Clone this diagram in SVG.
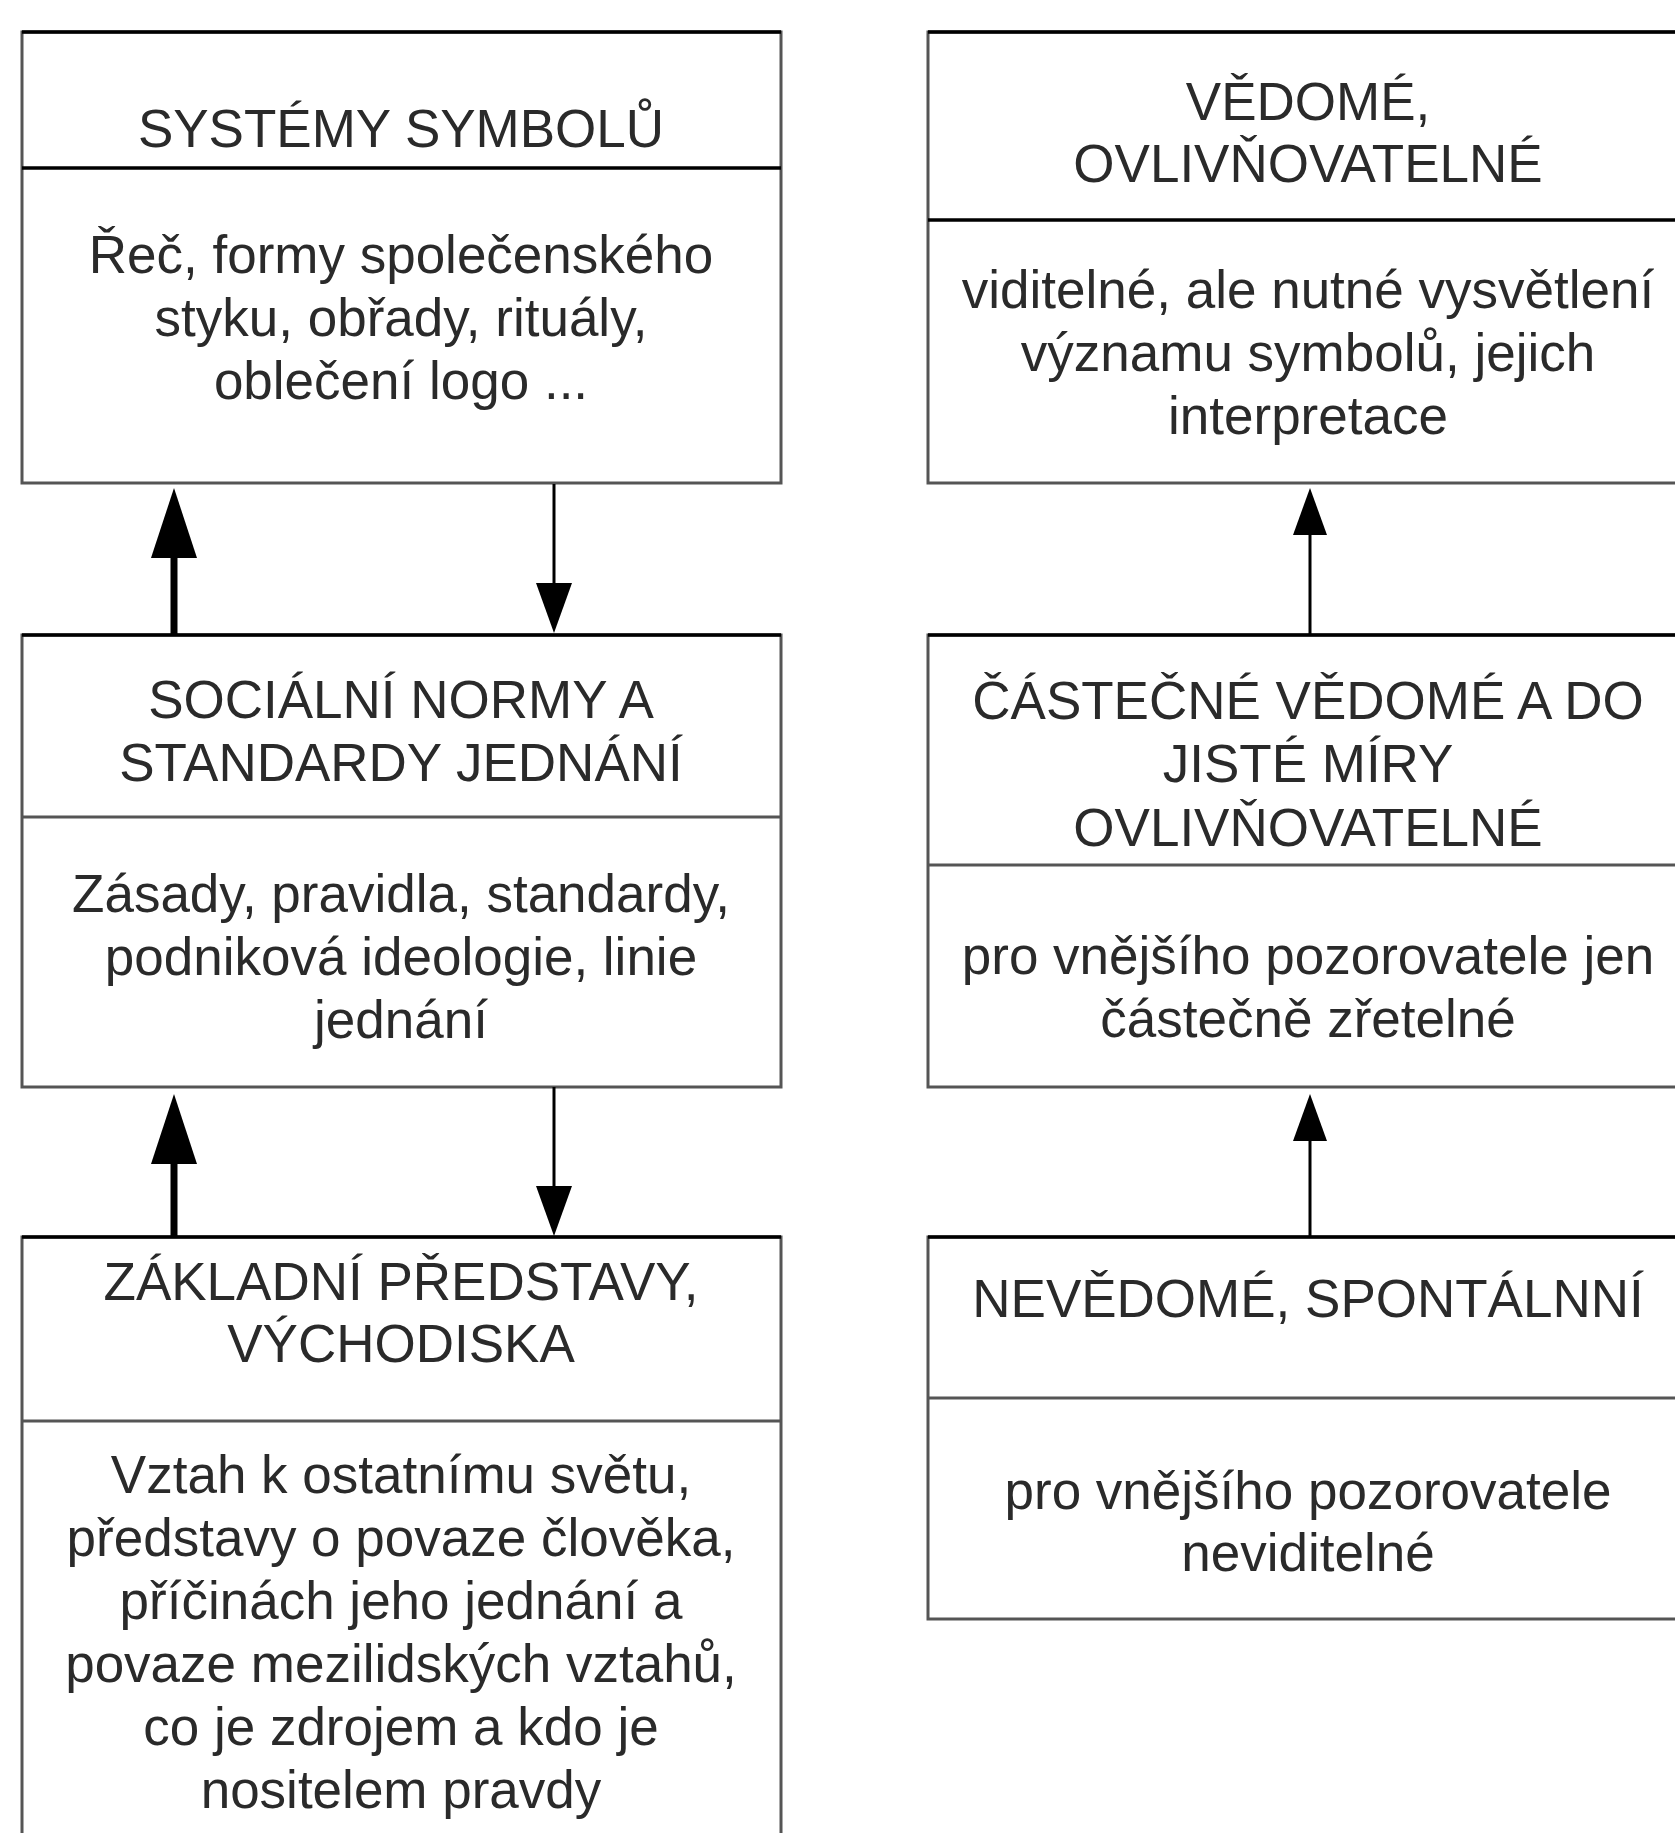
<svg xmlns="http://www.w3.org/2000/svg" width="1675" height="1833" viewBox="0 0 1675 1833">
  <defs>
    <style>
      .frame { fill: #ffffff; stroke: #555555; stroke-width: 3; }
      .edge { stroke: #000000; stroke-width: 3.5; fill: none; }
      .rule { stroke: #555555; stroke-width: 3; fill: none; }
      .rule-dark { stroke: #000000; stroke-width: 3.5; fill: none; }
      text { font-family: "Liberation Sans", Arial, sans-serif; font-size: 53px; fill: #2a2a2a; text-anchor: middle; }
      .thick { stroke: #000000; stroke-width: 7; fill: none; }
      .thin { stroke: #000000; stroke-width: 3; fill: none; }
    </style>
    <!-- heads start at the line end and extend forward -->
    <marker id="head-big" markerUnits="userSpaceOnUse" markerWidth="70" markerHeight="46" refX="0" refY="23" orient="auto">
      <path d="M0,0 L70,23 L0,46 z" fill="#000000"/>
    </marker>
    <marker id="head-mid" markerUnits="userSpaceOnUse" markerWidth="50" markerHeight="36" refX="0" refY="18" orient="auto">
      <path d="M0,0 L50,18 L0,36 z" fill="#000000"/>
    </marker>
    <marker id="head-small" markerUnits="userSpaceOnUse" markerWidth="47" markerHeight="34" refX="0" refY="17" orient="auto">
      <path d="M0,0 L47,17 L0,34 z" fill="#000000"/>
    </marker>
  </defs>

  <rect x="0" y="0" width="1675" height="1833" fill="#ffffff"/>

  <!-- left column -->
  <g id="systemy-symbolu">
    <rect class="frame" x="22" y="32" width="759" height="451"/>
    <line class="edge" x1="22" y1="32" x2="781" y2="32"/>
    <line class="rule-dark" x1="22" y1="168" x2="781" y2="168"/>
    <text x="401" y="147">SYSTÉMY SYMBOLŮ</text>
    <text x="401" y="273">Řeč, formy společenského</text>
    <text x="401" y="336">styku, obřady, rituály,</text>
    <text x="401" y="399">oblečení logo ...</text>
  </g>

  <g id="socialni-normy">
    <rect class="frame" x="22" y="635" width="759" height="452"/>
    <line class="edge" x1="22" y1="635" x2="781" y2="635"/>
    <line class="rule" x1="22" y1="817" x2="781" y2="817"/>
    <text x="401" y="718">SOCIÁLNÍ NORMY A</text>
    <text x="401" y="781">STANDARDY JEDNÁNÍ</text>
    <text x="401" y="912">Zásady, pravidla, standardy,</text>
    <text x="401" y="975">podniková ideologie, linie</text>
    <text x="401" y="1038">jednání</text>
  </g>

  <g id="zakladni-predstavy">
    <rect class="frame" x="22" y="1237" width="759" height="640"/>
    <line class="edge" x1="22" y1="1237" x2="781" y2="1237"/>
    <line class="rule" x1="22" y1="1421" x2="781" y2="1421"/>
    <text x="401" y="1300">ZÁKLADNÍ PŘEDSTAVY,</text>
    <text x="401" y="1362">VÝCHODISKA</text>
    <text x="401" y="1493">Vztah k ostatnímu světu,</text>
    <text x="401" y="1556">představy o povaze člověka,</text>
    <text x="401" y="1619">příčinách jeho jednání a</text>
    <text x="401" y="1682">povaze mezilidských vztahů,</text>
    <text x="401" y="1745">co je zdrojem a kdo je</text>
    <text x="401" y="1808">nositelem pravdy</text>
  </g>

  <!-- right column -->
  <g id="vedome">
    <rect class="frame" x="928" y="32" width="760" height="451"/>
    <line class="edge" x1="928" y1="32" x2="1688" y2="32"/>
    <line class="rule-dark" x1="928" y1="220" x2="1688" y2="220"/>
    <text x="1308" y="120">VĚDOMÉ,</text>
    <text x="1308" y="182">OVLIVŇOVATELNÉ</text>
    <text x="1308" y="308">viditelné, ale nutné vysvětlení</text>
    <text x="1308" y="371">významu symbolů, jejich</text>
    <text x="1308" y="434">interpretace</text>
  </g>

  <g id="castecne-vedome">
    <rect class="frame" x="928" y="635" width="760" height="452"/>
    <line class="edge" x1="928" y1="635" x2="1688" y2="635"/>
    <line class="rule" x1="928" y1="865" x2="1688" y2="865"/>
    <text x="1308" y="719">ČÁSTEČNÉ VĚDOMÉ A DO</text>
    <text x="1308" y="782">JISTÉ MÍRY</text>
    <text x="1308" y="846">OVLIVŇOVATELNÉ</text>
    <text x="1308" y="974">pro vnějšího pozorovatele jen</text>
    <text x="1308" y="1037">částečně zřetelné</text>
  </g>

  <g id="nevedome">
    <rect class="frame" x="928" y="1237" width="760" height="382"/>
    <line class="edge" x1="928" y1="1237" x2="1688" y2="1237"/>
    <line class="rule" x1="928" y1="1398" x2="1688" y2="1398"/>
    <text x="1308" y="1317">NEVĚDOMÉ, SPONTÁLNNÍ</text>
    <text x="1308" y="1509">pro vnějšího pozorovatele</text>
    <text x="1308" y="1571">neviditelné</text>
  </g>

  <!-- connectors -->
  <g id="connectors">
    <line class="thick" x1="174" y1="635" x2="174" y2="558" marker-end="url(#head-big)"/>
    <line class="thin" x1="554" y1="484" x2="554" y2="583" marker-end="url(#head-mid)"/>
    <line class="thick" x1="174" y1="1237" x2="174" y2="1164" marker-end="url(#head-big)"/>
    <line class="thin" x1="554" y1="1087" x2="554" y2="1186" marker-end="url(#head-mid)"/>
    <line class="thin" x1="1310" y1="635" x2="1310" y2="535" marker-end="url(#head-small)"/>
    <line class="thin" x1="1310" y1="1237" x2="1310" y2="1141" marker-end="url(#head-small)"/>
  </g>
</svg>
